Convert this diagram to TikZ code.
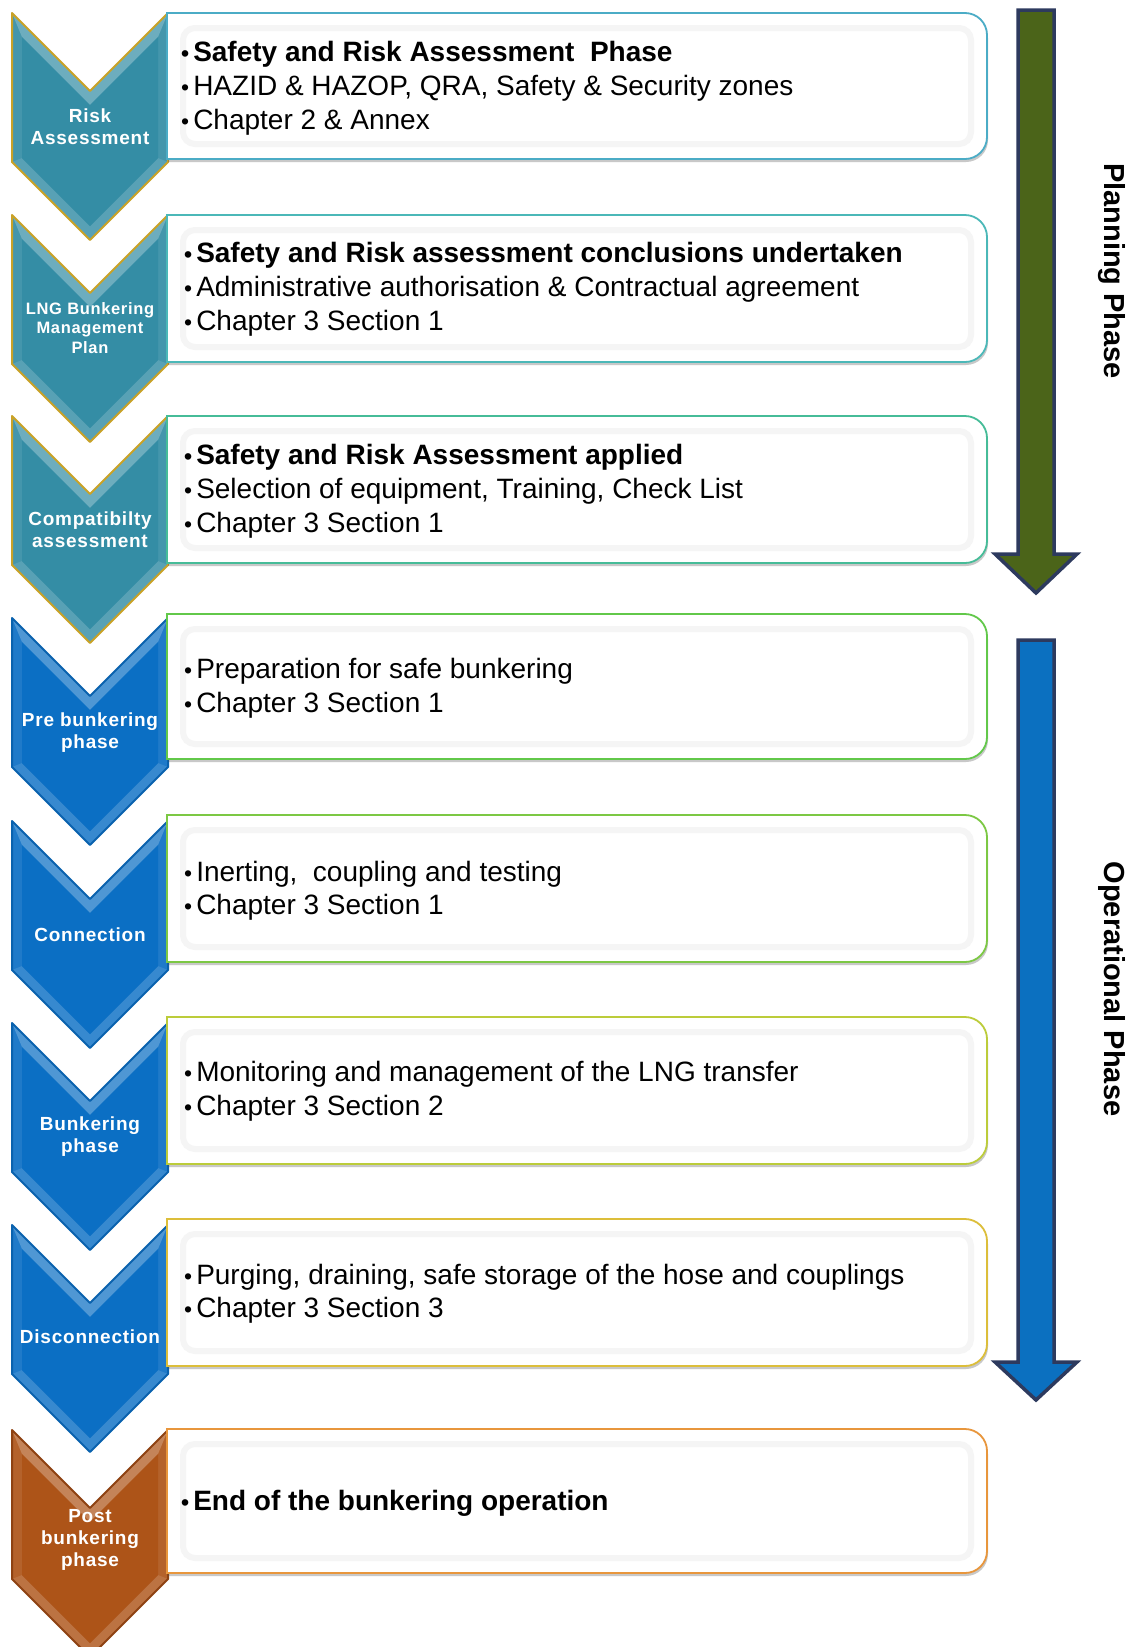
\documentclass[tikz,border=0pt]{standalone}
\usepackage{fontspec}
\setmainfont{Liberation Sans}
\newfontfamily\labfont[LetterSpace=4]{Liberation Sans}
\usetikzlibrary{shadows}
\definecolor{tealc}{HTML}{348DA5}
\definecolor{tealgold}{HTML}{C9A227}
\definecolor{bluec}{HTML}{0B6FC4}
\definecolor{bluedk}{HTML}{0A62AE}
\definecolor{brownc}{HTML}{AD5418}
\definecolor{browndk}{HTML}{8E4212}
\definecolor{navyc}{HTML}{2D3A5E}
\definecolor{olivec}{HTML}{4B6419}
\definecolor{arrowblue}{HTML}{0B70C0}
\definecolor{bc1}{HTML}{4BACC6}
\definecolor{bc2}{HTML}{4BB8B8}
\definecolor{bc3}{HTML}{46BC98}
\definecolor{bc4}{HTML}{62C84A}
\definecolor{bc5}{HTML}{7CC844}
\definecolor{bc6}{HTML}{BCCC3A}
\definecolor{bc7}{HTML}{DCBE3A}
\definecolor{bc8}{HTML}{E8963C}
\newcommand\bl{{\fontsize{23}{23}\selectfont\textbullet}\hspace{4pt}}
% chevron: #1 top y, #2 face colour, #3 border colour
\newcommand\mychev[3]{%
  \fill[#2!92!white] (12,#1) -- (90,#1+78) -- (168,#1) -- (168,#1+149) -- (90,#1+227) -- (12,#1+149) -- cycle;
  \fill[#2!72!white] (12,#1) -- (90,#1+78) -- (168,#1) -- (158,#1+24) -- (90,#1+92) -- (22,#1+24) -- cycle;
  \fill[#2!82!white] (12,#1+149) -- (90,#1+227) -- (168,#1+149) -- (158,#1+145) -- (90,#1+213) -- (22,#1+145) -- cycle;
  \fill[#2] (22,#1+24) -- (90,#1+92) -- (158,#1+24) -- (158,#1+145) -- (90,#1+213) -- (22,#1+145) -- cycle;
  \draw[#3, line width=2pt, line join=round] (12,#1) -- (90,#1+78) -- (168,#1) -- (168,#1+149) -- (90,#1+227) -- (12,#1+149) -- cycle;
}
% box: #1 top, #2 bottom, #3 border colour
\newcommand\mybox[3]{%
  \path[fill=white, draw=#3, line width=1.8pt,
    drop shadow={shadow xshift=1pt, shadow yshift=-3pt, opacity=0.3, fill=black!70}]
    (167,#1) [rounded corners=22pt] -- (987,#1) -- (987,#2) [sharp corners] -- (167,#2) -- cycle;
  \draw[black!4, line width=6pt, rounded corners=12pt] (183,#1+15) -- (971,#1+15) -- (971,#2-15) -- (183,#2-15) -- cycle;
}
\tikzset{
  boxtxt/.style={anchor=base west, inner sep=0pt, font=\fontsize{28}{33}\selectfont, text=black},
  boxbold/.style={boxtxt, font=\fontsize{28}{33}\selectfont\bfseries},
  chevlab/.style={align=center, inner sep=0pt, text=white, font=\fontsize{19}{22}\selectfont\labfont\bfseries},
  phaselab/.style={rotate=-90, inner sep=0pt, font=\fontsize{29}{33}\selectfont\bfseries},
  bigarrow/.style={draw=navyc, line width=3.5pt, line join=miter}
}
\begin{document}
\begin{tikzpicture}[x=1pt,y=-1pt]
\useasboundingbox (0,0) rectangle (1133,1647);
\clip (0,0) rectangle (1133,1647);
\fill[white] (0,0) rectangle (1133,1647);

% chevrons
\mychev{13}{tealc}{tealgold}
\mychev{215}{tealc}{tealgold}
\mychev{416}{tealc}{tealgold}
\mychev{618}{bluec}{bluedk}
\mychev{821}{bluec}{bluedk}
\mychev{1023}{bluec}{bluedk}
\mychev{1225}{bluec}{bluedk}
\mychev{1430}{brownc}{browndk}

% boxes
\mybox{13}{159}{bc1}
\mybox{215}{362}{bc2}
\mybox{416}{563}{bc3}
\mybox{614}{759}{bc4}
\mybox{815}{962}{bc5}
\mybox{1017}{1164}{bc6}
\mybox{1219}{1366}{bc7}
\mybox{1429}{1573}{bc8}

% chevron labels
\node[chevlab] (c1) at (90,127) {Risk\\Assessment};
\node[chevlab, font=\fontsize{16.5}{19.5}\selectfont\labfont\bfseries] (c2) at (90,328) {LNG Bunkering\\Management\\Plan};
\node[chevlab] (c3) at (90,530) {Compatibilty\\assessment};
\node[chevlab] (c4) at (90,733) {Pre bunkering\\phase};
\node[chevlab] (c5) at (90,935) {Connection};
\node[chevlab] (c6) at (90,1137) {Bunkering\\phase};
\node[chevlab] (c7) at (90,1337) {Disconnection};
\node[chevlab] (c8) at (90,1540) {Post\\bunkering\\phase};

% box texts
\node[boxbold] (t1a) at (181,61) {\bl Safety and Risk Assessment\ \ Phase};
\node[boxtxt]  (t1b) at (181,95) {\bl HAZID \& HAZOP, QRA, Safety \& Security zones};
\node[boxtxt]  (t1c) at (181,129) {\bl Chapter 2 \& Annex};

\node[boxbold] (t2a) at (184,262) {\bl Safety and Risk assessment conclusions undertaken};
\node[boxtxt]  (t2b) at (184,296) {\bl Administrative authorisation \& Contractual agreement};
\node[boxtxt]  (t2c) at (184,330) {\bl Chapter 3 Section 1};

\node[boxbold] (t3a) at (184,464) {\bl Safety and Risk Assessment applied};
\node[boxtxt]  (t3b) at (184,498) {\bl Selection of equipment, Training, Check List};
\node[boxtxt]  (t3c) at (184,532) {\bl Chapter 3 Section 1};

\node[boxtxt]  (t4a) at (184,678) {\bl Preparation for safe bunkering};
\node[boxtxt]  (t4b) at (184,712) {\bl Chapter 3 Section 1};

\node[boxtxt]  (t5a) at (184,881) {\bl Inerting,\ \ coupling and testing};
\node[boxtxt]  (t5b) at (184,914) {\bl Chapter 3 Section 1};

\node[boxtxt]  (t6a) at (184,1081) {\bl Monitoring and management of the LNG transfer};
\node[boxtxt]  (t6b) at (184,1115) {\bl Chapter 3 Section 2};

\node[boxtxt]  (t7a) at (184,1284) {\bl Purging, draining, safe storage of the hose and couplings};
\node[boxtxt]  (t7b) at (184,1317) {\bl Chapter 3 Section 3};

\node[boxbold] (t8a) at (181,1510) {\bl End of the bunkering operation};

% phase arrows
\path[bigarrow, fill=olivec] (1018,10) -- (1054,10) -- (1054,554) -- (1077,554) -- (1036,593) -- (995,554) -- (1018,554) -- cycle;
\path[bigarrow, fill=arrowblue] (1018,640) -- (1054,640) -- (1054,1362) -- (1077,1362) -- (1036,1400) -- (995,1362) -- (1018,1362) -- cycle;

\node[phaselab] (pp) at (1112,271) {Planning Phase};
\node[phaselab] (op) at (1112,989) {Operational Phase};
\end{tikzpicture}
\end{document}
